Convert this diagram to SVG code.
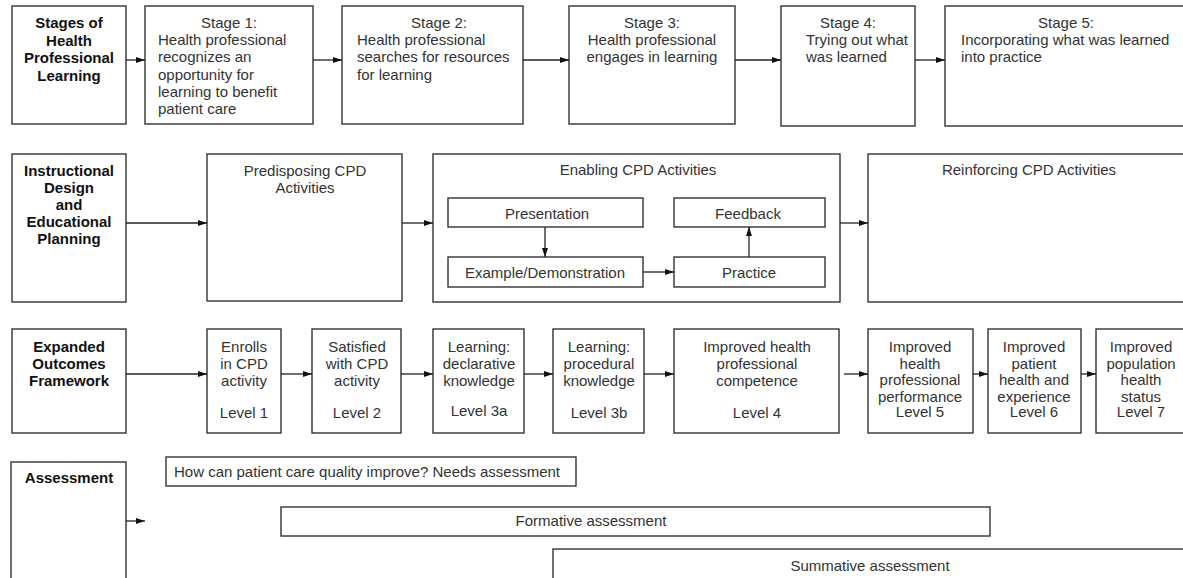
<svg xmlns="http://www.w3.org/2000/svg" width="1183" height="578" viewBox="0 0 1183 578">
<defs>
<style>
.box{fill:#fff;stroke:#333;stroke-width:1.4}
.lbl{font-family:"Liberation Sans",Arial,sans-serif;font-size:15px;font-weight:bold;fill:#111;text-anchor:middle}
.t{font-family:"Liberation Sans",Arial,sans-serif;font-size:15px;fill:#333}
.c{text-anchor:middle}
.con{stroke:#222;stroke-width:1.3;fill:none;marker-end:url(#ah)}
</style>
<marker id="ah" markerUnits="userSpaceOnUse" markerWidth="10" markerHeight="8" refX="9" refY="3.5" orient="auto">
<path d="M0,0.5 L9,3.5 L0,6.5 z" fill="#111"/>
</marker>
</defs>
<rect width="1183" height="578" fill="#fff"/>

<g id="stages-label">
<rect class="box" x="12" y="6" width="114" height="118"/>
<text class="lbl" x="69" y="28">Stages of</text>
<text class="lbl" x="69" y="45.5">Health</text>
<text class="lbl" x="69" y="63">Professional</text>
<text class="lbl" x="69" y="80.5">Learning</text>
</g>
<g id="stage1">
<rect class="box" x="145" y="6" width="168" height="118"/>
<text class="t c" x="229" y="28">Stage 1:</text>
<text class="t" x="158" y="45.2">Health professional</text>
<text class="t" x="158" y="62.4">recognizes an</text>
<text class="t" x="158" y="79.6">opportunity for</text>
<text class="t" x="158" y="96.8">learning to benefit</text>
<text class="t" x="158" y="114">patient care</text>
</g>
<g id="stage2">
<rect class="box" x="342" y="6" width="181" height="118"/>
<text class="t c" x="439" y="28">Stage 2:</text>
<text class="t" x="357" y="45.2">Health professional</text>
<text class="t" x="357" y="62.4">searches for resources</text>
<text class="t" x="357" y="79.6">for learning</text>
</g>
<g id="stage3">
<rect class="box" x="569" y="6" width="166" height="118"/>
<text class="t c" x="652" y="28">Stage 3:</text>
<text class="t c" x="652" y="45.2">Health professional</text>
<text class="t c" x="652" y="62.4">engages in learning</text>
</g>
<g id="stage4">
<rect class="box" x="781" y="6" width="134" height="120"/>
<text class="t c" x="848" y="28">Stage 4:</text>
<text class="t" x="806" y="45.2">Trying out what</text>
<text class="t" x="806" y="62.4">was learned</text>
</g>
<g id="stage5">
<rect class="box" x="945" y="6" width="250" height="120"/>
<text class="t c" x="1066" y="28">Stage 5:</text>
<text class="t" x="961" y="45.2">Incorporating what was learned</text>
<text class="t" x="961" y="62.4">into practice</text>
</g>

<g id="design-label">
<rect class="box" x="12" y="154" width="114" height="148"/>
<text class="lbl" x="69" y="176">Instructional</text>
<text class="lbl" x="69" y="193">Design</text>
<text class="lbl" x="69" y="210">and</text>
<text class="lbl" x="69" y="227">Educational</text>
<text class="lbl" x="69" y="244">Planning</text>
</g>
<g id="predisposing">
<rect class="box" x="207" y="154" width="195" height="147"/>
<text class="t c" x="305" y="176">Predisposing CPD</text>
<text class="t c" x="305" y="193">Activities</text>
</g>
<g id="enabling">
<rect class="box" x="433" y="154" width="407" height="148"/>
<text class="t c" x="638" y="175">Enabling CPD Activities</text>
</g>
<g id="presentation">
<rect class="box" x="448" y="198" width="195" height="29"/>
<text class="t c" x="547" y="219">Presentation</text>
</g>
<g id="feedback">
<rect class="box" x="674" y="198" width="151" height="29"/>
<text class="t c" x="748" y="219">Feedback</text>
</g>
<g id="example">
<rect class="box" x="448" y="257" width="195" height="30"/>
<text class="t c" x="545" y="278">Example/Demonstration</text>
</g>
<g id="practice">
<rect class="box" x="674" y="257" width="151" height="30"/>
<text class="t c" x="749" y="278">Practice</text>
</g>
<g id="reinforcing">
<rect class="box" x="868" y="154" width="330" height="148"/>
<text class="t c" x="1029" y="175">Reinforcing CPD Activities</text>
</g>

<g id="outcomes-label">
<rect class="box" x="12" y="329" width="114" height="104"/>
<text class="lbl" x="69" y="352">Expanded</text>
<text class="lbl" x="69" y="369">Outcomes</text>
<text class="lbl" x="69" y="386">Framework</text>
</g>
<g id="level1">
<rect class="box" x="207" y="329" width="74" height="104"/>
<text class="t c" x="244" y="352">Enrolls</text>
<text class="t c" x="244" y="369">in CPD</text>
<text class="t c" x="244" y="386">activity</text>
<text class="t c" x="244" y="418">Level 1</text>
</g>
<g id="level2">
<rect class="box" x="312" y="329" width="89" height="104"/>
<text class="t c" x="357" y="352">Satisfied</text>
<text class="t c" x="357" y="369">with CPD</text>
<text class="t c" x="357" y="386">activity</text>
<text class="t c" x="357" y="418">Level 2</text>
</g>
<g id="level3a">
<rect class="box" x="433" y="329" width="91" height="104"/>
<text class="t c" x="479" y="352">Learning:</text>
<text class="t c" x="479" y="369">declarative</text>
<text class="t c" x="479" y="386">knowledge</text>
<text class="t c" x="479" y="416">Level 3a</text>
</g>
<g id="level3b">
<rect class="box" x="553" y="329" width="91" height="104"/>
<text class="t c" x="599" y="352">Learning:</text>
<text class="t c" x="599" y="369">procedural</text>
<text class="t c" x="599" y="386">knowledge</text>
<text class="t c" x="599" y="418">Level 3b</text>
</g>
<g id="level4">
<rect class="box" x="674" y="329" width="165" height="104"/>
<text class="t c" x="757" y="352">Improved health</text>
<text class="t c" x="757" y="369">professional</text>
<text class="t c" x="757" y="386">competence</text>
<text class="t c" x="757" y="418">Level 4</text>
</g>
<g id="level5">
<rect class="box" x="868" y="329" width="105" height="104"/>
<text class="t c" x="920" y="352">Improved</text>
<text class="t c" x="920" y="368.5">health</text>
<text class="t c" x="920" y="385">professional</text>
<text class="t c" x="920" y="401.5">performance</text>
<text class="t c" x="920" y="417">Level 5</text>
</g>
<g id="level6">
<rect class="box" x="988" y="329" width="93" height="104"/>
<text class="t c" x="1034" y="352">Improved</text>
<text class="t c" x="1034" y="368.5">patient</text>
<text class="t c" x="1034" y="385">health and</text>
<text class="t c" x="1034" y="401.5">experience</text>
<text class="t c" x="1034" y="417">Level 6</text>
</g>
<g id="level7">
<rect class="box" x="1096" y="329" width="100" height="104"/>
<text class="t c" x="1141" y="352">Improved</text>
<text class="t c" x="1141" y="368.5">population</text>
<text class="t c" x="1141" y="385">health</text>
<text class="t c" x="1141" y="401.5">status</text>
<text class="t c" x="1141" y="417">Level 7</text>
</g>

<g id="assessment-label">
<rect class="box" x="11" y="462" width="115" height="130"/>
<text class="lbl" x="69" y="483">Assessment</text>
</g>
<g id="needs">
<rect class="box" x="166" y="457" width="410" height="29"/>
<text class="t" x="174" y="477">How can patient care quality improve? Needs assessment</text>
</g>
<g id="formative">
<rect class="box" x="281" y="507" width="709" height="29"/>
<text class="t c" x="591" y="526">Formative assessment</text>
</g>
<g id="summative">
<rect class="box" x="553" y="549" width="640" height="40"/>
<text class="t c" x="870" y="571">Summative assessment</text>
</g>

<g id="connectors">
<line class="con" x1="126" y1="60" x2="145" y2="60"/>
<line class="con" x1="313" y1="60" x2="342" y2="60"/>
<line class="con" x1="523" y1="60" x2="569" y2="60"/>
<line class="con" x1="735" y1="60" x2="781" y2="60"/>
<line class="con" x1="915" y1="60" x2="945" y2="60"/>
<line class="con" x1="126" y1="223" x2="207" y2="223"/>
<line class="con" x1="402" y1="223" x2="433" y2="223"/>
<line class="con" x1="840" y1="223" x2="868" y2="223"/>
<line class="con" x1="545" y1="227" x2="545" y2="257"/>
<line class="con" x1="643" y1="272" x2="674" y2="272"/>
<line class="con" x1="749" y1="257" x2="749" y2="227"/>
<line class="con" x1="126" y1="374" x2="207" y2="374"/>
<line class="con" x1="281" y1="374" x2="312" y2="374"/>
<line class="con" x1="401" y1="374" x2="433" y2="374"/>
<line class="con" x1="524" y1="374" x2="553" y2="374"/>
<line class="con" x1="644" y1="374" x2="674" y2="374"/>
<line class="con" x1="844" y1="374" x2="868" y2="374"/>
<line class="con" x1="973" y1="374" x2="988" y2="374"/>
<line class="con" x1="1081" y1="374" x2="1096" y2="374"/>
<line class="con" x1="126" y1="521" x2="145" y2="521"/>
</g>
</svg>
